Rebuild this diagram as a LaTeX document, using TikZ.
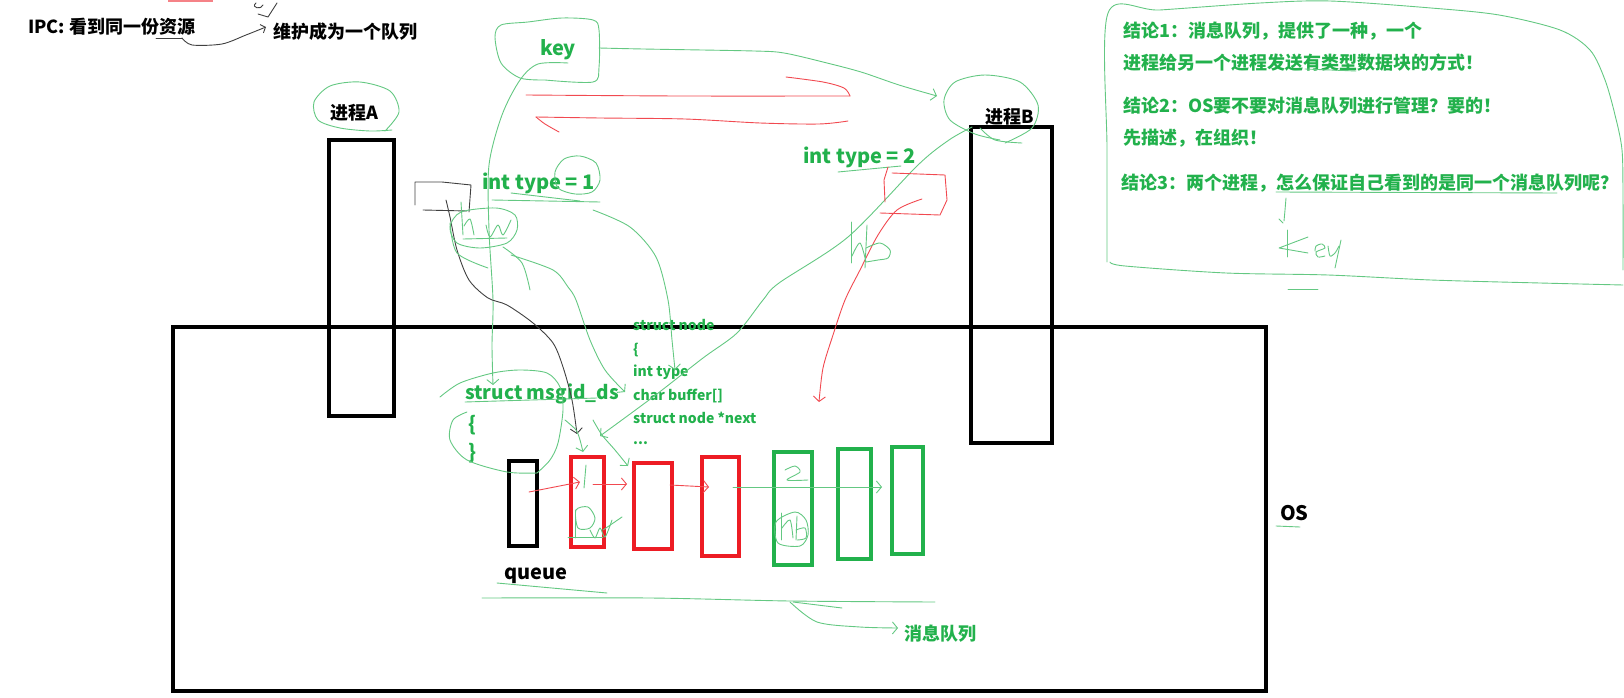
\documentclass[tikz,border=0pt]{standalone}
\usepackage{fontspec}
\setmainfont{Noto Sans CJK SC}
\usetikzlibrary{arrows.meta}
\definecolor{pg}{RGB}{34,177,76}
\definecolor{pr}{RGB}{237,28,36}
\tikzset{
 txt/.style={inner sep=0pt, anchor=west, font=\bfseries\fontsize{18}{20}\selectfont},
 gtxt/.style={txt, text=pg},
 ltxt/.style={inner sep=0pt, anchor=west, text=pg, font=\bfseries\fontsize{20}{22}\selectfont},
 stxt/.style={inner sep=0pt, anchor=west, text=pg, font=\bfseries\fontsize{14}{16}\selectfont},
 procbox/.style={draw=black, line width=3.5pt, inner sep=0pt},
 rbox/.style={draw=pr, line width=3.5pt, inner sep=0pt},
 gbox/.style={draw=pg, line width=3.5pt, inner sep=0pt},
 pen/.style={draw=pg!70, line width=0.9pt, line cap=round, line join=round},
 rpen/.style={draw=pr!80, line width=0.9pt, line cap=round, line join=round},
 kpen/.style={draw=black!75, line width=0.9pt, line cap=round, line join=round},
 barb/.style={-{Straight Barb[length=5pt,width=12pt]}},
}
\begin{document}
\begin{tikzpicture}[x=1pt,y=-1pt]
\useasboundingbox (0,0) rectangle (1624,698);

% big boxes
\node[procbox, minimum width=1093pt, minimum height=364pt] (os) at (719.5,509) {};
\node[procbox, minimum width=65pt, minimum height=276pt] (boxA) at (361.5,278) {};
\node[procbox, minimum width=81pt, minimum height=316pt] (boxB) at (1011.5,285) {};

% queue boxes
\node[procbox, minimum width=28pt, minimum height=85pt] (q0) at (523,503.5) {};
\node[rbox, minimum width=33pt, minimum height=90pt] (r1) at (587.5,502) {};
\node[rbox, minimum width=38pt, minimum height=86pt] (r2) at (653,506) {};
\node[rbox, minimum width=37pt, minimum height=99pt] (r3) at (720.5,506.5) {};
\node[gbox, minimum width=38pt, minimum height=113pt] (g1) at (793,508.5) {};
\node[gbox, minimum width=33pt, minimum height=110pt] (g2) at (854.5,504) {};
\node[gbox, minimum width=31pt, minimum height=107pt] (g3) at (907.5,500.5) {};

% texts
\node[txt] (ipc) at (28,27) {IPC: 看到同一份资源};
\node[txt] (wh) at (273,32) {维护成为一个队列};
\node[txt, anchor=center] (pa) at (354,113) {进程A};
\node[txt, anchor=center] (pb) at (1010,117) {进程B};
\node[ltxt, anchor=center] (key) at (558,50) {key};
\node[ltxt] (int1) at (482,183) {int type = 1};
\node[ltxt] (int2) at (803,157) {int type = 2};
\node[ltxt, font=\bfseries\fontsize{19}{21}\selectfont] (msg) at (465,394) {struct msgid\_ds};
\node[ltxt] (lb) at (468,425) {\{};
\node[ltxt] (rb) at (468,453) {\}};
\node[stxt] (sn1) at (633,325) {struct node};
\node[stxt] (sn2) at (633,350) {\{};
\node[stxt] (sn3) at (633,372) {int type};
\node[stxt] (sn4) at (633,396) {char buffer[]};
\node[stxt] (sn5) at (633,418) {struct node *next};
\node[stxt] (sn6) at (633,443) {...};
\node[txt, font=\bfseries\fontsize{20}{22}\selectfont] (queue) at (504,576) {queue};
\node[gtxt] (xx) at (904,634) {消息队列};
\node[txt, font=\bfseries\fontsize{20}{22}\selectfont] (ostxt) at (1280,513) {OS};
\node[gtxt] (c1) at (1123,31) {结论1：消息队列，提供了一种，一个};
\node[gtxt] (c2) at (1123,63) {进程给另一个进程发送有类型数据块的方式！};
\node[gtxt] (c3) at (1123,106) {结论2：OS要不要对消息队列进行管理？要的！};
\node[gtxt] (c4) at (1123,138) {先描述，在组织！};
\node[gtxt] (c5) at (1121,183) {结论3：两个进程，怎么保证自己看到的是同一个消息队列呢？};

% top-left strokes
\fill[pr!55] (168,0) rectangle (213,2);
\draw[kpen] (156,38) -- (182,38);
\draw[kpen, -{Straight Barb[length=4pt,width=9pt]}] plot[smooth] coordinates {(182,38) (192,45) (222,44) (246,35) (266,27)};
\draw[kpen] (256,3) .. controls (250,8) and (262,10) .. (263,5);
\draw[kpen] (277,3) -- (268,17) -- (258,14);

% ellipse around process A
\draw[pen] plot[smooth] coordinates {(385,131) (399,112) (390,91) (360,82) (330,86) (314,102) (318,120) (340,128) (370,131) (392,130)};
% key blob
\draw[pen] plot[smooth] coordinates {(545,80) (593,82) (599,67) (599,30) (593,20) (562,18) (528,22) (501,25) (495,37) (501,63) (520,78) (545,80)};
% key -> msgid_ds
\draw[pen, barb] plot[smooth] coordinates {(568,63) (538,64) (520,80) (502,115) (489,165) (489,230) (493,300) (492,345) (493,385)};
% key -> process B
\draw[pen, barb] plot[smooth] coordinates {(599,48) (643,49) (754,51) (784,53) (823,62) (861,72) (899,85) (937,96)};
% ellipse process B
\draw[pen] plot[smooth] coordinates {(1005,143) (1032,128) (1038,105) (1020,82) (985,75) (955,82) (944,100) (950,120) (975,134) (1000,140)};

% red lines
\draw[rpen] plot[smooth] coordinates {(526,95) (680,96) (850,96)};
\draw[rpen] plot[smooth] coordinates {(850,96) (844,88) (823,82) (786,77)};
\draw[rpen] plot[smooth] coordinates {(848,121) (819,124) (760,123) (685,119) (600,118) (536,117)};
\draw[rpen] plot[smooth] coordinates {(536,117) (545,124) (559,132)};

% int type = 1 bubble & underline
\draw[pen] plot[smooth cycle] coordinates {(558,188) (555,172) (564,159) (580,156) (596,163) (600,180) (592,192) (575,194)};
\draw[pen] (492,200) -- (600,202);
\draw[pen] (511,193) -- (580,201);
\draw[pen, barb] plot[smooth] coordinates {(593,210) (630,227) (656,257) (668,300) (672,340) (675,370)};
% int type = 2 underline
\draw[pen] (838,172) -- (901,166);

% black bracket and arrow
\draw[kpen] (415,205) -- (415,182) -- (442,182) -- (471,185) -- (469,212);
\draw[kpen] (423,210) -- (467,211);
\draw[kpen, barb] plot[smooth] coordinates {(446,200) (450,217) (457,250) (469,280) (488,298) (507,305) (533,323) (553,343) (563,367) (572,400) (577,434)};

% hw circle
\draw[pen] plot[smooth cycle] coordinates {(461,212) (496,208) (515,215) (517,230) (507,243) (480,248) (457,243) (450,227)};
\draw[pen] (461,202) -- (463,235);
\draw[pen] plot[smooth] coordinates {(464,226) (470,219) (474,235)};
\draw[pen] plot[smooth] coordinates {(486,225) (490,237) (498,225) (503,235) (511,220)};
\draw[pen] (463,239) -- (507,238);
% strokes from hw
\draw[pen] plot[smooth] coordinates {(503,247) (522,263) (530,290)};
\draw[pen, barb] plot[smooth] coordinates {(511,255) (553,270) (568,287) (576,300) (590,340) (605,370) (625,392)};
\draw[pen] plot[smooth] coordinates {(450,223) (457,253) (488,268)};

% process B -> struct node *next
\draw[pen] plot[smooth] coordinates {(980,128) (995,140) (1022,143)};
\draw[pen, barb] plot[smooth] coordinates {(972,127) (949,140) (918,165) (848,237) (779,283) (763,300) (737,333) (703,358) (653,397) (600,436)};

% red hb box and arrow
\draw[rpen] (888,167) -- (884,180) -- (885,202);
\draw[rpen] (892,173) -- (945,175) -- (947,200) -- (940,215) -- (880,213);
\draw[rpen, barb] plot[smooth] coordinates {(922,199) (897,210) (878,235) (860,270) (845,300) (833,335) (823,368) (819,402)};
% hb handwritten
\draw[pen] (851,222) -- (851,263);
\draw[pen] plot[smooth] coordinates {(852,256) (860,243) (866,262)};
\draw[pen] (867,225) -- (865,268);
\draw[pen] plot[smooth] coordinates {(866,248) (880,243) (890,250) (888,258) (878,260) (866,262)};

% msgid blob and loops
\draw[pen] plot[smooth] coordinates {(440,397) (460,383) (493,373) (520,370) (547,373) (560,387) (563,410) (558,443) (550,460) (537,473)};
\draw[pen] plot[smooth] coordinates {(467,412) (453,420) (450,440) (467,460) (507,472) (537,473)};
\draw[pen] (465,402) -- (597,398);
% arrows to red boxes
\draw[pen, barb] plot[smooth] coordinates {(565,420) (576,430) (580,440) (583,452)};
\draw[pen, barb] plot[smooth] coordinates {(593,420) (602,435) (615,450) (628,466)};

% queue links
\draw[rpen, barb] (529,492) -- (580,482);
\draw[rpen, barb] (593,484) -- (627,484);
\draw[rpen, barb] (670,485) -- (709,487);
\draw[pen, barb] (733,487) -- (882,487);

% handwriting in boxes
\draw[pen] (586,465) -- (584,488);
\draw[pen] (575,510) -- (575,538);
\draw[pen] plot[smooth cycle] coordinates {(576,510) (588,507) (595,518) (590,528) (578,528)};
\draw[pen] plot[smooth] coordinates {(590,530) (595,538) (600,528) (605,537) (612,520)};
\draw[pen] (568,537) -- (603,537);
\draw[pen] (603,530) -- (622,517);
\draw[pen] plot[smooth] coordinates {(785,470) (795,466) (800,472) (787,480) (808,480)};
\draw[pen] (781,513) -- (781,540);
\draw[pen] plot[smooth] coordinates {(782,528) (790,520) (793,538)};
\draw[pen] (797,516) -- (796,540);
\draw[pen] plot[smooth] coordinates {(796,530) (805,528) (806,538) (797,540)};
\draw[pen] plot[smooth cycle] coordinates {(776,522) (778,543) (800,546) (808,535) (806,520) (795,512)};

% queue underline & arrow to 消息队列
\draw[pen] (497,583) -- (607,593);
\draw[pen] plot[smooth] coordinates {(482,598) (650,598) (790,601) (935,602)};
\draw[pen] (793,602) -- (842,608);
\draw[pen, barb] plot[smooth] coordinates {(790,602) (817,622) (860,627) (898,628)};

% OS underline
\draw[pen] (1276,526) -- (1300,527);

% conclusion outline
\draw[pen] plot[smooth] coordinates {(1107,262) (1107,150) (1108,13) (1160,10) (1260,3) (1330,1) (1431,8) (1499,15) (1560,30) (1590,50) (1605,80) (1615,115) (1622,150) (1623,200) (1623,270)};
\draw[pen] plot[smooth] coordinates {(1110,262) (1125,266) (1226,273) (1328,275) (1431,280) (1540,283) (1623,285)};
\draw[pen] (1288,289) -- (1318,289);
\draw[pen] (1305,69) -- (1356,71);
\draw[pen] (1276,192) -- (1557,193);
\draw[pen] plot[smooth] coordinates {(1286,198) (1285,210) (1284,221)};
\draw[pen] (1279,219) -- (1283,223);
% Key handwriting
\draw[pen] (1287,230) -- (1287,257);
\draw[pen] (1308,237) -- (1279,248) -- (1308,253);
\draw[pen] plot[smooth] coordinates {(1315,251) (1316,246) (1322,244) (1325,248) (1316,252) (1318,257) (1325,256)};
\draw[pen] plot[smooth] coordinates {(1328,246) (1330,256) (1335,253) (1339,246)};
\draw[pen] (1341,240) -- (1335,268);
\end{tikzpicture}
\end{document}
